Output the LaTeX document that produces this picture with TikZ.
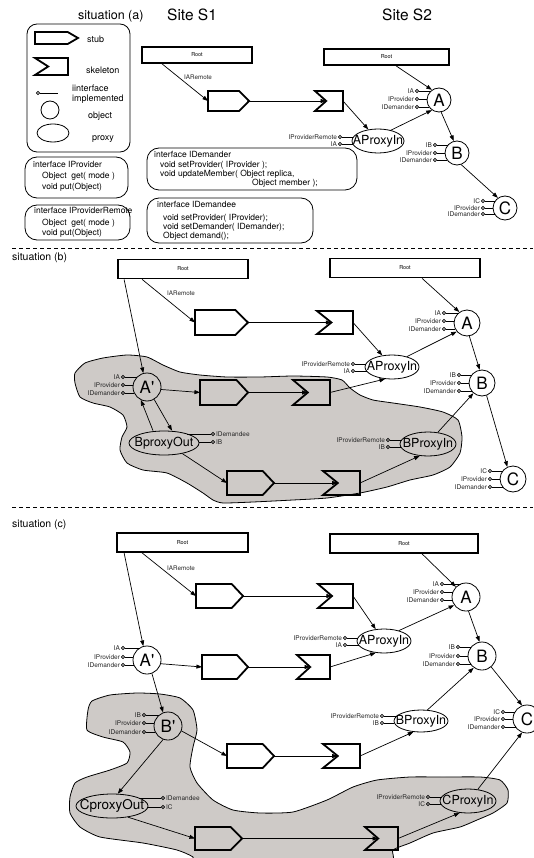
\documentclass[tikz,border=0pt]{standalone}
\usepackage{fontspec}
\setmainfont{TeX Gyre Heros}
\usetikzlibrary{arrows.meta,shapes.geometric,calc}
\definecolor{blobgray}{RGB}{206,202,199}
\newcommand\fs[1]{\fontsize{#1}{#1}\selectfont}
\newcommand\pr{\textquotesingle}
\tikzset{
  conn/.style={line width=0.7pt,-{Triangle[length=5.6pt,width=4pt]}},
  heavy/.style={line width=1.8pt},
  boxnode/.style={inner sep=0pt,outer sep=0pt,draw=none},
  rootbox/.style={draw,line width=1.8pt,inner sep=0pt,font=\fs{5.5}},
  obj/.style={draw,circle,line width=0.8pt,inner sep=0pt,font=\fs{17}},
  prox/.style={draw,ellipse,line width=0.8pt,inner sep=0pt},
  port/.style={draw,circle,line width=0.7pt,inner sep=0pt,minimum size=3.4pt},
  portline/.style={line width=0.7pt},
  portlab/.style={font=\fs{6.5},inner sep=0.8pt,text=black!85},
  lbl/.style={inner sep=0pt,font=\fs{6.3},text=black!85},
  ifbox/.style={draw,line width=0.8pt,rounded corners=12pt,inner sep=0pt},
  iftxt/.style={inner sep=0pt,font=\fs{8.5}},
  legtxt/.style={inner sep=0pt,font=\fs{9},anchor=west},
  blob/.style={draw,fill=blobgray,line width=0.8pt},
  sep/.style={line width=0.7pt,dash pattern=on 4pt off 3pt}
}
\newcommand\stubat[5]{%
  \pgfmathsetmacro\mysw{#4-#2}\pgfmathsetmacro\mysh{#5-#3}\pgfmathsetmacro\mytd{0.24*\mysw}%
  \node[boxnode,minimum width=\mysw pt,minimum height=\mysh pt] (#1) at ({(#2+#4)/2},{(#3+#5)/2}) {};%
  \draw[heavy] (#1.north west) -- ([xshift=-\mytd pt]#1.north east) -- (#1.east) -- ([xshift=-\mytd pt]#1.south east) -- (#1.south west) -- cycle;}
\newcommand\skelat[5]{%
  \pgfmathsetmacro\mysw{#4-#2}\pgfmathsetmacro\mysh{#5-#3}\pgfmathsetmacro\mytd{0.4*\mysw}%
  \node[boxnode,minimum width=\mysw pt,minimum height=\mysh pt] (#1) at ({(#2+#4)/2},{(#3+#5)/2}) {};%
  \coordinate (#1-in) at ([xshift=\mytd pt]#1.west);%
  \draw[heavy] (#1.north west) -- (#1-in) -- (#1.south west) -- (#1.south east) -- (#1.north east) -- cycle;}
% ports on the left: name, cx, cy, rx, ry, gap, list label/dy
\newcommand\lports[7]{%
  \foreach \lab/\dy [count=\k] in {#7} {%
    \pgfmathsetmacro\myxe{#2-#4*sqrt(1-(\dy/#5)^2)}%
    \node[port] (#1-p\k) at ({#2-#4-#6},{#3+\dy}) {};%
    \node[portlab,anchor=east] (#1-l\k) at (#1-p\k.west) {\lab};%
    \draw[portline] (#1-p\k.east) -- (\myxe,{#3+\dy});%
  }}
\newcommand\rports[7]{%
  \foreach \lab/\dy [count=\k] in {#7} {%
    \pgfmathsetmacro\myxe{#2+#4*sqrt(1-(\dy/#5)^2)}%
    \node[port] (#1-p\k) at ({#2+#4+#6},{#3+\dy}) {};%
    \node[portlab,anchor=west] (#1-l\k) at (#1-p\k.east) {\lab};%
    \draw[portline] (#1-p\k.west) -- (\myxe,{#3+\dy});%
  }}
\begin{document}
\begin{tikzpicture}[x=1pt,y=-1pt]
\useasboundingbox (0,0) rectangle (533,858);

% ---------- blobs ----------
\draw[blob] plot[smooth cycle,tension=0.35] coordinates {(75,373) (85,363) (103,358) (127,355) (147,357) (163,365) (180,372) (200,375) (227,377) (260,377) (293,376) (327,377) (342,380) (350,388) (360,395) (373,400) (393,403) (420,407) (443,412) (458,420) (462,437) (460,453) (450,467) (433,475) (410,480) (387,487) (360,493) (327,498) (293,500) (253,502) (223,503) (213,500) (203,493) (187,483) (167,473) (143,470) (127,463) (120,450) (122,437) (127,427) (123,415) (110,407) (93,403) (80,397) (75,383)};
\draw[blob] plot[smooth cycle,tension=0.35] coordinates {(88,710) (92,701) (110,695) (137,693) (160,694) (180,698) (193,710) (197,730) (193,747) (190,767) (197,783) (213,800) (233,810) (260,813) (293,812) (327,800) (353,787) (377,780) (410,777) (443,777) (480,777) (500,780) (508,790) (507,803) (493,813) (477,820) (460,827) (433,833) (410,843) (393,850) (382,866) (200,868) (193,857) (177,850) (143,843) (100,837) (80,827) (70,813) (70,797) (75,783) (87,777) (110,770) (127,763) (130,752) (123,742) (103,737) (87,730)};

% ---------- situation (a) header ----------
\node[inner sep=0pt,font=\fs{12.5},anchor=west] (sita) at (78,16) {situation (a)};
\node[inner sep=0pt,font=\fs{15.5},anchor=west] (site1) at (167,15) {Site S1};
\node[inner sep=0pt,font=\fs{15.5},anchor=west] (site2) at (382,15) {Site S2};

% ---------- legend ----------
\node[ifbox,rounded corners=10pt,minimum width=103pt,minimum height=128pt] (legend) at (78.5,88) {};
\stubat{lstub}{35}{32}{78}{44}
\skelat{lskel}{35}{58}{68}{75}
\node[port] (lport) at (38,93) {};
\coordinate (lportend) at (58,93);
\draw[portline] (lport.east) -- (lportend);
\node[draw,circle,line width=0.8pt,minimum size=18pt,inner sep=0pt] (lobj) at (50,110) {};
\node[prox,minimum width=32pt,minimum height=18pt] (lprox) at (53,133) {};
\node[legtxt] (tstub) at (87,39) {stub};
\node[legtxt] (tskel) at (86,70) {skeleton};
\node[legtxt] (tif1) at (72,88) {iinterface};
\node[legtxt] (tif2) at (72,99) {implemented};
\node[legtxt] (tobj) at (88,116) {object};
\node[legtxt] (tprox) at (92,139) {proxy};

% ---------- interface boxes ----------
\node[ifbox,minimum width=103pt,minimum height=41pt] (bprov) at (76.5,177.5) {};
\node[iftxt,anchor=base west] (tp1) at (33,168) {interface IProvider};
\node[iftxt,anchor=base west] (tp2) at (42,179) {Object\ \ get( mode )};
\node[iftxt,anchor=base west] (tp3) at (42,190) {void put(Object)};
\node[ifbox,minimum width=105pt,minimum height=35pt] (bprem) at (77.5,222.5) {};
\node[iftxt,anchor=base west] (tr1) at (34,214) {interface IProviderRemote};
\node[iftxt,anchor=base west] (tr2) at (42,226) {Object\ \ get( mode )};
\node[iftxt,anchor=base west] (tr3) at (42,236) {void put(Object)};
\node[ifbox,minimum width=210pt,minimum height=42pt] (bdem) at (252,169) {};
\node[iftxt,anchor=base west] (td1) at (154,158) {interface IDemander};
\node[iftxt,anchor=base west] (td2) at (160,168) {void setProvider( IProvider );};
\node[iftxt,anchor=base west] (td3) at (160,177) {void updateMember( Object replica,};
\node[iftxt,anchor=base east] (td4) at (318,186) {Object member );};
\node[ifbox,minimum width=166pt,minimum height=45pt] (bdee) at (230,220.5) {};
\node[iftxt,anchor=base west] (te1) at (157,208) {interface IDemandee};
\node[iftxt,anchor=base west] (te2) at (163,221) {void setProvider( IProvider);};
\node[iftxt,anchor=base west] (te3) at (163,230) {void setDemander( IDemander);};
\node[iftxt,anchor=base west] (te4) at (163,239) {Object demand();};

\draw[sep] (12,248) -- (533,248);

% ---------- situation (a) diagram ----------
\node[rootbox,minimum width=110pt,minimum height=16pt] (r1a) at (197,55) {Root};
\node[lbl,anchor=west] (iara) at (184,77) {IARemote};
\stubat{st1a}{208}{91}{249}{111}
\skelat{sk1a}{315}{91}{343}{111}
\node[rootbox,minimum width=125pt,minimum height=16pt] (r2a) at (386.5,57) {Root};
\node[obj,minimum size=24pt] (Aa) at (439,100) {A};
\node[obj,minimum size=24pt] (Ba) at (457,153) {B};
\node[obj,minimum size=24pt] (Ca) at (505,208) {C};
\node[prox,minimum width=52pt,minimum height=24pt,font=\fs{12.5}] (APa) at (378,141) {\makebox[0pt]{AProxyIn}};
\lports{Aa}{439}{100}{12}{12}{10}{IA/-9,IProvider/-1,IDemander/7}
\lports{Ba}{457}{153}{12}{12}{10}{IB/-8,IProvider/0,IDemander/7}
\lports{Ca}{505}{208}{12}{12}{10}{IC/-7,IProvider/0,IDemander/6}
\lports{APa}{378}{141}{26}{12}{12}{IProviderRemote/-4,IA/3}
\draw[conn] ([xshift=21pt]r1a.south west) -- (st1a.west);
\draw[conn] (st1a.east) -- (sk1a-in);
\draw[conn] (sk1a.east) -- (APa.130);
\draw[conn] (APa.40) -- (Aa.235);
\draw[conn] ([xshift=73pt]r2a.south west) -- (Aa.125);
\draw[conn] (Aa.280) -- (Ba.105);
\draw[conn] (Ba.290) -- (Ca.125);

\draw[sep] (12,507) -- (533,507);

% ---------- situation (b) ----------
\node[inner sep=0pt,font=\fs{10.5},anchor=west] (sitb) at (12,258) {situation (b)};
\node[rootbox,minimum width=130pt,minimum height=19pt] (r1b) at (183,269) {Root};
\node[rootbox,minimum width=150pt,minimum height=19pt] (r2b) at (405,268) {Root};
\node[lbl,anchor=west] (iarb) at (167,293) {IARemote};
\stubat{st1b}{195}{310}{248}{335}
\skelat{sk1b}{317}{311}{353}{334}
\node[prox,minimum width=54pt,minimum height=24pt,font=\fs{12.5}] (APb) at (392,367) {\makebox[0pt]{AProxyIn}};
\node[obj,minimum size=26pt] (Ab) at (467,323) {A};
\node[obj,minimum size=26pt] (Bb) at (482,383) {B};
\node[obj,minimum size=26pt] (Cb) at (513,479) {C};
\node[obj,minimum size=28pt] (AAb) at (147,387) {A\pr};
\stubat{st2b}{200}{380}{248}{405}
\skelat{sk2b}{293}{380}{330}{405}
\node[prox,minimum width=70pt,minimum height=24pt,font=\fs{12.5}] (bpo) at (164,443) {\makebox[0pt]{BproxyOut}};
\stubat{st3b}{227}{471}{274}{495}
\skelat{sk3b}{323}{471}{360}{495}
\node[prox,minimum width=56pt,minimum height=24pt,font=\fs{12.5}] (bpi) at (428,444) {\makebox[0pt]{BProxyIn}};
\lports{Ab}{467}{323}{13}{13}{10}{IA/-10,IProvider/-2,IDemander/6}
\lports{Bb}{482}{383}{13}{13}{10}{IB/-8,IProvider/0,IDemander/8}
\lports{Cb}{513}{479}{13}{13}{10}{IC/-8,IProvider/0,IDemander/8}
\lports{AAb}{147}{387}{14}{14}{10}{IA/-10,IProvider/-2,IDemander/6}
\lports{APb}{392}{367}{27}{12}{12}{IProviderRemote/-3,IA/4}
\lports{bpi}{428}{444}{28}{12}{12}{IProviderRemote/-4,IB/3}
\rports{bpo}{164}{443}{35}{12}{14}{IDemandee/-9,IB/-1}
\draw[conn] ([xshift=25pt]r1b.south west) -- (st1b.west);
\draw[conn] ([xshift=7pt]r1b.south west) -- (AAb.105);
\draw[conn] (st1b.east) -- (sk1b-in);
\draw[conn] (sk1b.east) -- (APb.130);
\draw[conn] (APb.35) -- (Ab.220);
\draw[conn] ([xshift=93pt]r2b.south west) -- (Ab.125);
\draw[conn] (Ab.280) -- (Bb.100);
\draw[conn] (Bb.290) -- (Cb.115);
\draw[conn] (AAb.-10) -- (st2b.west);
\draw[conn] (st2b.east) -- (sk2b-in);
\draw[conn] (sk2b.east) -- (APb.240);
\draw[conn] (AAb.-60) -- ([xshift=8pt]bpo.north);
\draw[conn] ([xshift=-11pt]bpo.north) -- (AAb.-115);
\draw[conn] (bpo.-30) -- (st3b.west);
\draw[conn] (st3b.east) -- (sk3b-in);
\draw[conn] (sk3b.east) -- (bpi.235);
\draw[conn] (bpi.50) -- (Bb.230);

% ---------- situation (c) ----------
\node[inner sep=0pt,font=\fs{10.5},anchor=west] (sitc) at (12,525) {situation (c)};
\node[rootbox,minimum width=131pt,minimum height=19pt] (r1c) at (182.5,542.5) {Root};
\node[rootbox,minimum width=148pt,minimum height=19pt] (r2c) at (404,543.5) {Root};
\node[lbl,anchor=west] (iarc) at (167,568) {IARemote};
\stubat{st1c}{196}{584}{243}{608}
\skelat{sk1c}{318}{584}{353}{608}
\node[obj,minimum size=28pt] (Ac) at (466,597) {A};
\node[prox,minimum width=54pt,minimum height=24pt,font=\fs{12.5}] (APc) at (384,641) {\makebox[0pt]{AProxyIn}};
\node[obj,minimum size=28pt] (Bc) at (482,656) {B};
\node[obj,minimum size=28pt] (Cc) at (527,719) {C};
\node[obj,minimum size=28pt] (AAc) at (147,660) {A\pr};
\stubat{st2c}{202}{655}{248}{679}
\skelat{sk2c}{297}{655}{330}{679}
\node[obj,minimum size=28pt] (BBc) at (168,726) {B\pr};
\stubat{st3c}{227}{744}{274}{768}
\skelat{sk3c}{323}{744}{360}{768}
\node[prox,minimum width=54pt,minimum height=22pt,font=\fs{12.5}] (bpc) at (421,721) {\makebox[0pt]{BProxyIn}};
\node[prox,minimum width=72pt,minimum height=24pt,font=\fs{13.5}] (cpo) at (112,806) {\makebox[0pt]{CproxyOut}};
\stubat{st4c}{195}{827}{242}{850}
\skelat{sk4c}{365}{827}{398}{850}
\node[prox,minimum width=56pt,minimum height=24pt,font=\fs{12.5}] (cpi) at (468,801) {\makebox[0pt]{CProxyIn}};
\lports{Ac}{466}{597}{14}{14}{10}{IA/-13,IProvider/-5,IDemander/3}
\lports{Bc}{482}{656}{14}{14}{10}{IB/-9,IProvider/0,IDemander/8}
\lports{Cc}{527}{719}{14}{14}{10}{IC/-7,IProvider/0,IDemander/8}
\lports{AAc}{147}{660}{14}{14}{10}{IA/-12,IProvider/-3,IDemander/5}
\lports{BBc}{168}{726}{14}{14}{10}{IB/-11,IProvider/-3,IDemander/6}
\lports{APc}{384}{641}{27}{12}{12}{IProviderRemote/-3,IA/4}
\lports{bpc}{421}{721}{27}{11}{12}{IProviderRemote/-5,IB/2}
\lports{cpi}{468}{801}{28}{12}{12}{IProviderRemote/-4,IC/3}
\rports{cpo}{112}{806}{36}{12}{15}{IDemandee/-8,IC/1}
\draw[conn] ([xshift=26pt]r1c.south west) -- (st1c.west);
\draw[conn] ([xshift=8pt]r1c.south west) -- (AAc.105);
\draw[conn] ([xshift=93pt]r2c.south west) -- (Ac.135);
\draw[conn] (st1c.east) -- (sk1c-in);
\draw[conn] (sk1c.east) -- (APc.125);
\draw[conn] (APc.35) -- (Ac.215);
\draw[conn] (AAc.-15) -- (st2c.west);
\draw[conn] (st2c.east) -- (sk2c-in);
\draw[conn] (sk2c.east) -- (APc.235);
\draw[conn] (Ac.280) -- (Bc.100);
\draw[conn] (Bc.-50) -- (Cc.110);
\draw[conn] (AAc.-70) -- (BBc.110);
\draw[conn] (BBc.-20) -- (st3c.west);
\draw[conn] (st3c.east) -- (sk3c-in);
\draw[conn] (sk3c.east) -- (bpc.235);
\draw[conn] (bpc.60) -- (Bc.235);
\draw[conn] (BBc.-110) -- (cpo.65);
\draw[conn] (cpo.-35) -- (st4c.west);
\draw[conn] (st4c.east) -- (sk4c-in);
\draw[conn] (sk4c.east) -- (cpi.235);
\draw[conn] (cpi.50) -- (Cc.250);
\end{tikzpicture}
\end{document}
